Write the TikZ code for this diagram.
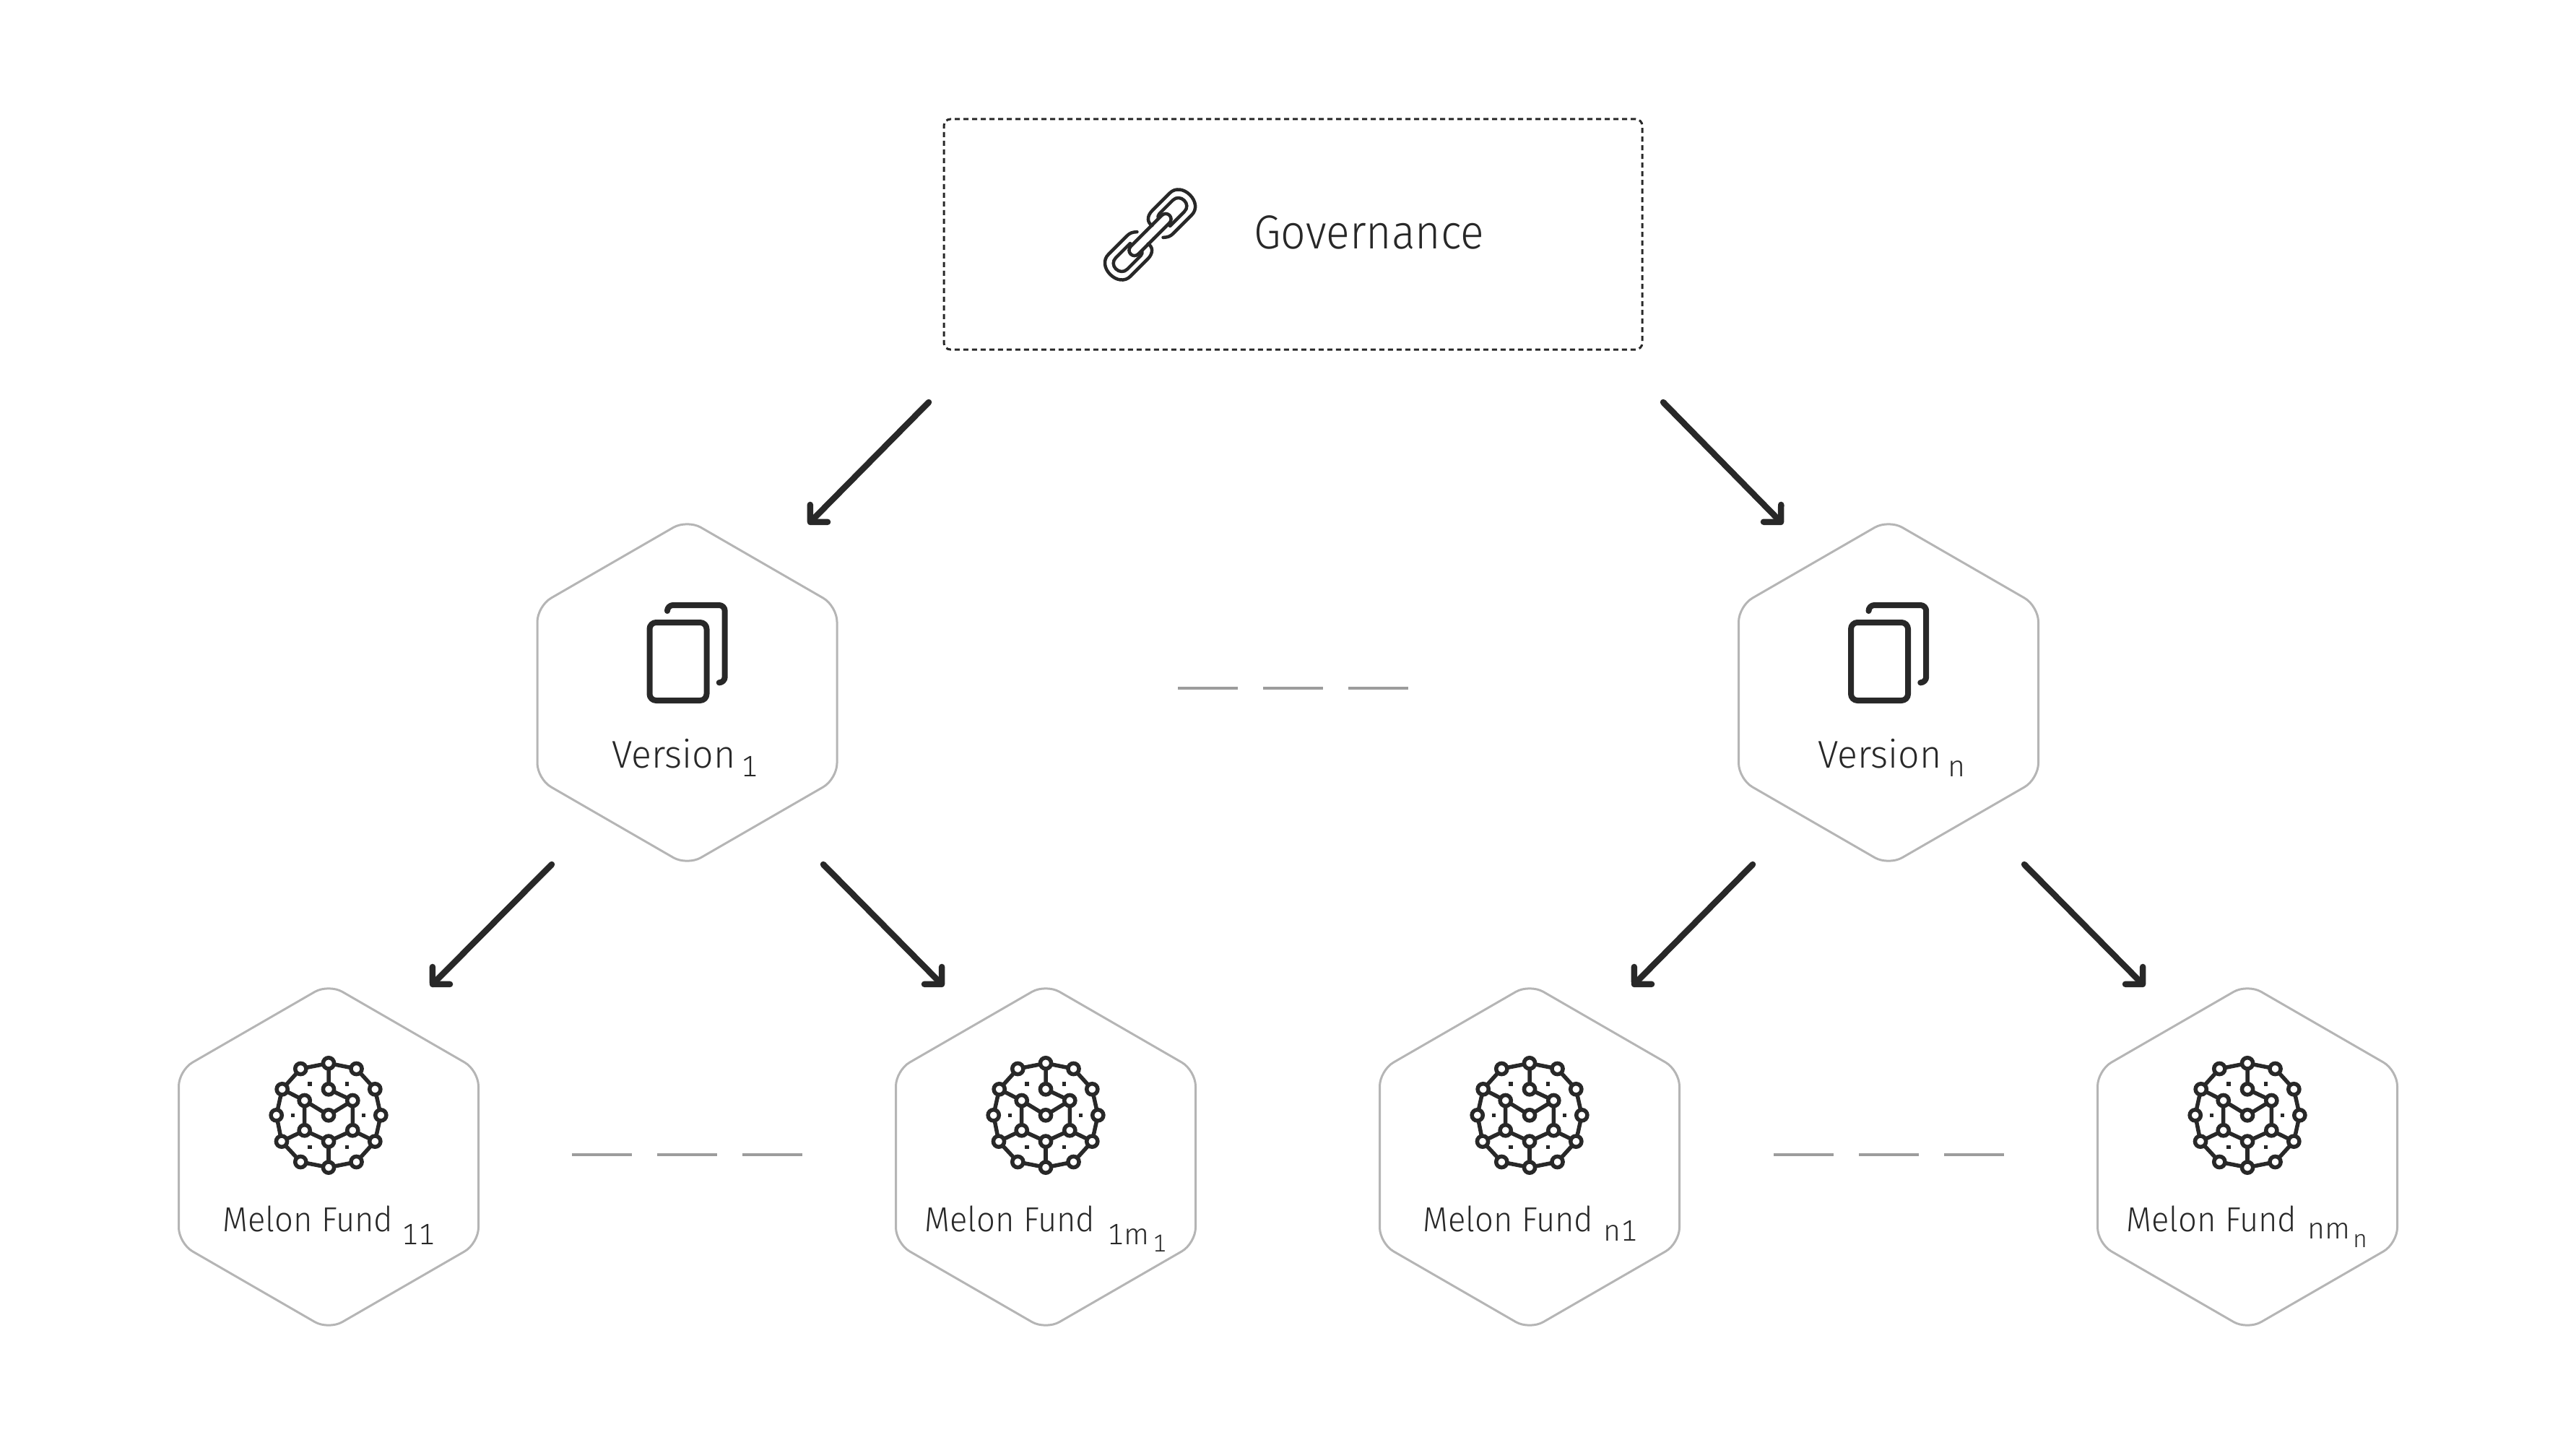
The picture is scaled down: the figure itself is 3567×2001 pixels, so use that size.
\documentclass[tikz,border=0pt]{standalone}
\usepackage{fontspec}
\setmainfont{Fira Sans Light}
\newfontfamily\govf[FakeStretch=0.92]{Fira Sans Light}
\newfontfamily\verf[FakeStretch=0.97]{Fira Sans Light}
\newfontfamily\fundf[FakeStretch=0.945]{Fira Sans Light}
\newfontfamily\subf[Numbers=Monospaced]{Fira Sans Light}
\usetikzlibrary{arrows.meta,shapes.geometric}
\definecolor{ink}{HTML}{282828}
\definecolor{hexgray}{HTML}{B5B5B5}
\definecolor{dashgray}{HTML}{9C9C9C}
\tikzset{
  hexnode/.style={draw=hexgray,line width=3pt,regular polygon,regular polygon sides=6,shape border rotate=90,minimum size=479.2pt,inner sep=0pt,outer sep=0pt,rounded corners=22pt},
  govbox/.style={draw=ink,line width=3pt,dash pattern=on 7pt off 5pt,rounded corners=9pt,minimum width=967pt,minimum height=319pt,inner sep=0pt,outer sep=0pt},
  flowarrow/.style={draw=ink,line width=8.5pt,line cap=round,-{Straight Barb[length=17pt,width=34pt,round]}},
  gapline/.style={draw=dashgray,line width=4pt,dash pattern=on 83pt off 35pt},
  iconline/.style={draw=ink,line width=5.5pt,line cap=round,line join=round},
  chainline/.style={draw=ink,line width=4.5pt,line cap=round,line join=round},
  govtext/.style={anchor=base west,inner sep=0pt,text=ink,font=\govf\fontsize{66}{70}\selectfont},
  vertext/.style={anchor=base west,inner sep=0pt,text=ink,font=\verf\fontsize{53.5}{60}\selectfont},
  fundtext/.style={anchor=base west,inner sep=0pt,text=ink,font=\fundf\fontsize{48}{54}\selectfont},
  subtext/.style={anchor=base west,inner sep=0pt,text=ink,font=\subf\fontsize{41}{46}\selectfont},
  subsubtext/.style={anchor=base west,inner sep=0pt,text=ink,font=\subf\fontsize{34}{38}\selectfont},
}
\newcommand{\versionicon}[1]{%
  \begin{scope}[shift={(#1)}]
    \draw[iconline,line width=8pt,rounded corners=9pt] (-52,-97) rectangle (27,11);
    \draw[iconline,line width=8pt,rounded corners=8pt] (-27.5,-113.5) |- (52.2,-121) -- (52.2,-13.7) -- (45,-13.7);
  \end{scope}}
\newcommand{\fundicon}[1]{%
  \begin{scope}[shift={(#1)}]
    \draw[iconline] (0,-72) -- (38.5,-64.3) -- (64.3,-36) -- (72.3,0) -- (64.3,36.3) -- (38.5,64.7) -- (0,72.3) -- (-38.7,64.7) -- (-65,36.3) -- (-72.3,0) -- (-64.3,-36) -- (-38.7,-64.3) -- cycle;
    \draw[iconline] (0,-72) -- (0,-36) -- (33.3,-20.3) -- (0,0) -- (-33.3,-20.3) -- (-64.3,-36);
    \draw[iconline] (-33.3,-20.3) -- (-33.3,21) -- (0,36.3) -- (33.3,21) -- (33.3,-20.3);
    \draw[iconline] (-65,36.3) -- (-33.3,21);
    \draw[iconline] (64.3,36.3) -- (33.3,21);
    \draw[iconline] (0,36.3) -- (0,72.3);
    \foreach \px/\py in {0/-72,38.5/-64.3,64.3/-36,72.3/0,64.3/36.3,38.5/64.7,0/72.3,-38.7/64.7,-65/36.3,-72.3/0,-64.3/-36,-38.7/-64.3,0/-36,-33.3/-20.3,33.3/-20.3,0/0,-33.3/21,33.3/21,0/36.3}
      \filldraw[draw=ink,fill=white,line width=5.5pt] (\px,\py) circle[radius=7.6pt];
    \foreach \px/\py in {-26/-43.3,25.7/-43.3,-49.3/0,48.7/0,-26/44,25.7/44}
      \fill[ink] (\px-2.7,\py-2.7) rectangle (\px+2.7,\py+2.7);
  \end{scope}}
\begin{document}
\begin{tikzpicture}[x=1pt,y=-1pt]
\useasboundingbox (0,0) rectangle (3567,2001);
% containers
\node[govbox] (gov) at (1790.5,324.5) {};
\node[hexnode] (v1) at (951.5,959) {};
\node[hexnode] (vn) at (2615,959) {};
\node[hexnode] (f11) at (455,1602) {};
\node[hexnode] (f1m) at (1448,1602) {};
\node[hexnode] (fn1) at (2118,1602) {};
\node[hexnode] (fnm) at (3112,1602) {};
% chain icon
\foreach \s in {1,-1}{
\begin{scope}[shift={(1592.5,325)},x={(\s*0.7071pt,\s*0.7071pt)},y={(-\s*0.7071pt,\s*0.7071pt)}]
  \draw[chainline] (10,-15.5) .. controls (15,-20) and (18,-21.5) .. (24,-21.5) -- (60,-21.5) .. controls (71,-21.5) and (78,-12) .. (78,0) .. controls (78,12) and (71,21.5) .. (60,21.5) -- (26,21.5) .. controls (14,21.5) and (9,14) .. (11,7);
  \draw[chainline] (28,-11) -- (56,-11) .. controls (63,-11) and (67,-6) .. (67,0) .. controls (67,6) and (63,11.5) .. (56,11.5) -- (30,11.5) .. controls (27,11.5) and (25,10) .. (24,8);
  \draw[chainline] (0,-7.5) -- (30,-7.5) .. controls (35,-7.5) and (38,-4) .. (38,0) .. controls (38,4) and (35,7.5) .. (30,7.5) -- (0,7.5);
\end{scope}}
% icons
\versionicon{951.5,959}
\versionicon{2615,959}
\fundicon{455,1544.3}
\fundicon{1448,1544.3}
\fundicon{2118,1544.3}
\fundicon{3112,1544.3}
% labels
\node[govtext] (tgov) at (1736,344) {Governance};
\node[vertext] (tv1) at (847,1063) {Version};
\node[subtext] (sv1) at (1026,1075) {1};
\node[vertext] (tvn) at (2517,1063) {Version};
\node[subtext] (svn) at (2697,1075) {n};
\node[fundtext] (tf11) at (308,1705) {Melon Fund};
\node[subtext] (sf11) at (556,1723) {11};
\node[fundtext] (tf1m) at (1280,1705) {Melon Fund};
\node[subtext] (sf1m) at (1533,1723) {1m};
\node[subsubtext] (ssf1m) at (1596,1733) {1};
\node[fundtext] (tfn1) at (1970,1705) {Melon Fund};
\node[subtext] (sfn1) at (2220,1718) {n1};
\node[fundtext] (tfnm) at (2944,1705) {Melon Fund};
\node[subtext] (sfnm) at (3195,1715) {nm};
\node[subsubtext] (ssfnm) at (3258,1727) {n};
% gaps
\draw[gapline] (1631,953) -- (1950,953);
\draw[gapline] (792,1599) -- (1111,1599);
\draw[gapline] (2456,1599) -- (2775,1599);
% connectors
\coordinate (a1s) at (1286,557); \coordinate (a1e) at (1119,726);
\coordinate (a2s) at (2303,557); \coordinate (a2e) at (2469,726);
\coordinate (a3s) at (764,1197); \coordinate (a3e) at (596,1366);
\coordinate (a4s) at (1140,1197); \coordinate (a4e) at (1307,1366);
\coordinate (a5s) at (2427,1197); \coordinate (a5e) at (2260,1366);
\coordinate (a6s) at (2803,1197); \coordinate (a6e) at (2970,1366);
\draw[flowarrow] (a1s) -- (a1e);
\draw[flowarrow] (a2s) -- (a2e);
\draw[flowarrow] (a3s) -- (a3e);
\draw[flowarrow] (a4s) -- (a4e);
\draw[flowarrow] (a5s) -- (a5e);
\draw[flowarrow] (a6s) -- (a6e);
\end{tikzpicture}
\end{document}
